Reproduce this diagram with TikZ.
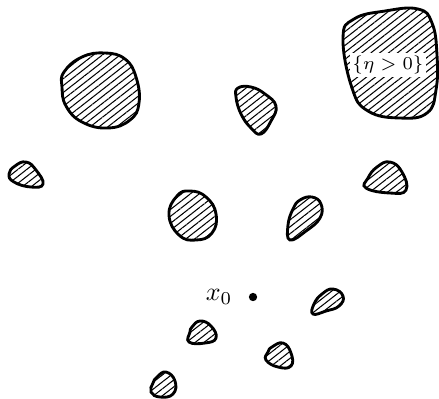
\documentclass[tikz,border=0pt]{standalone}
\usetikzlibrary{patterns.meta}
\tikzset{
  blob/.style={line width=1.1pt, pattern={Lines[angle=38,distance=2.1pt,line width=0.4pt]}},
}
\begin{document}
\begin{tikzpicture}[x=0.385pt,y=-0.385pt]
\useasboundingbox (0,0) rectangle (439,398);
% big top-right
\draw[blob] plot[smooth cycle,tension=0.75] coordinates{(343,38) (354,19) (385,11) (418,9) (432,23) (437,55) (436,90) (427,113) (400,118) (368,111) (352,88)};
\node[fill=white,inner sep=1pt,font=\scriptsize] (eta) at (388,65) {$\{\eta>0\}$};
% big left
\draw[blob] plot[smooth cycle,tension=0.75] coordinates{(64,72) (82,57) (105,53) (125,59) (136,77) (139,103) (130,120) (108,128) (82,122) (66,106) (62,87)};
% mid top
\draw[blob] plot[smooth cycle,tension=0.75] coordinates{(238,88) (251,87) (265,94) (276,106) (271,121) (261,134) (251,128) (241,114) (236,97)};
% left small
\draw[blob] plot[smooth cycle,tension=0.8] coordinates{(15,166) (26,162) (36,170) (43,184) (31,187) (14,182) (9,174)};
% middle
\draw[blob] plot[smooth cycle,tension=0.8] coordinates{(177,196) (190,191) (206,197) (216,214) (212,233) (196,240) (179,235) (169,215)};
% teardrop
\draw[blob] plot[smooth cycle,tension=0.75] coordinates{(300,200) (312,197) (321,204) (320,218) (306,231) (290,240) (288,225) (293,209)};
% right
\draw[blob] plot[smooth cycle,tension=0.8] coordinates{(377,167) (390,162) (402,172) (406,190) (390,193) (366,188) (368,178)};
% lower right small
\draw[blob] plot[smooth cycle,tension=0.8] coordinates{(322,294) (333,289) (343,296) (339,306) (326,311) (313,314) (314,304)};
% lower
\draw[blob] plot[smooth cycle,tension=0.8] coordinates{(192,327) (200,321) (211,326) (216,338) (205,343) (189,342) (190,332)};
\draw[blob] plot[smooth cycle,tension=0.8] coordinates{(272,347) (283,343) (291,353) (291,366) (278,367) (266,360) (268,352)};
\draw[blob] plot[smooth cycle,tension=0.8] coordinates{(157,377) (166,372) (175,381) (173,394) (160,397) (151,392) (153,383)};
% point
\fill (253,297) circle (1.6pt) coordinate (x0);
\node (x0lab) at (219,297) {$x_0$};
\end{tikzpicture}
\end{document}
